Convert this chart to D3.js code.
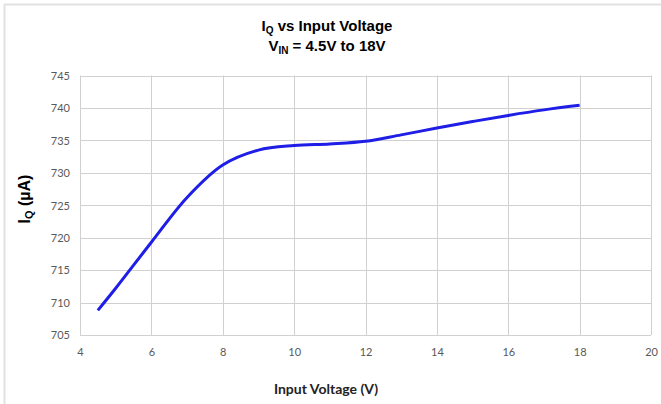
<!DOCTYPE html>
<html><head><meta charset="utf-8">
<script src="https://cdn.jsdelivr.net/npm/d3@7"></script>
<style>body{margin:0;background:#fff}svg{display:block}</style>
</head><body>
<script>
const voltage = [4.5, 5, 6, 7, 8, 9, 10, 11, 12, 13, 14, 15, 16, 17, 18];
const iq = [708.8, 712.2, 719.3, 726.2, 731.2, 733.5, 734.2, 734.45, 734.85, 735.85, 736.9, 737.9, 738.85, 739.7, 740.4];
const xTicks = [4, 6, 8, 10, 12, 14, 16, 18, 20];
const yTicks = [705, 710, 715, 720, 725, 730, 735, 740, 745];

const W = 661, H = 404;
const svg = d3.select("body").append("svg").attr("width", W).attr("height", H);

// outer frame (top and left edges visible)
svg.append("line").attr("x1",4).attr("x2",W).attr("y1",4.5).attr("y2",4.5).attr("stroke","#e2e2e2").attr("stroke-width",2);
svg.append("line").attr("x1",4.5).attr("x2",4.5).attr("y1",4).attr("y2",H).attr("stroke","#e2e2e2").attr("stroke-width",2);

const L = 80, R = 651, T = 75.5, B = 335;
const x = d3.scaleLinear().domain([4, 20]).range([L, R]);
const y = d3.scaleLinear().domain([705, 745]).range([B, T]);

// gridlines
const g = svg.append("g");
g.selectAll(".vg").data(xTicks).enter().append("line")
  .attr("x1", d => Math.round(x(d)) + 0.5).attr("x2", d => Math.round(x(d)) + 0.5)
  .attr("y1", T).attr("y2", B).attr("stroke", "#d0d0d0").attr("stroke-width", 1);
g.selectAll(".hg").data(yTicks).enter().append("line")
  .attr("y1", d => Math.round(y(d)) + 0.5).attr("y2", d => Math.round(y(d)) + 0.5)
  .attr("x1", L).attr("x2", R).attr("stroke", "#d0d0d0").attr("stroke-width", 1);

// axes (labels only)
const xAxis = d3.axisBottom(x).tickValues(xTicks).tickSize(0).tickPadding(0).tickFormat(d3.format("d"));
const yAxis = d3.axisLeft(y).tickValues(yTicks).tickSize(0).tickPadding(0).tickFormat(d3.format("d"));
const gx = svg.append("g").attr("transform", `translate(0,${B})`).call(xAxis);
const gy = svg.append("g").attr("transform", `translate(${L - 10},0)`).call(yAxis);
[gx, gy].forEach(a => {
  a.select(".domain").remove();
  a.selectAll("text").attr("fill", "#595959").attr("font-family", "Lato, 'Open Sans', sans-serif").attr("font-size", "11px");
});
gx.selectAll("text").attr("dy", "1.9em");
gy.selectAll("text").attr("dy", "0.35em");

// line
const line = d3.line().x((d, i) => x(voltage[i])).y(d => y(d)).curve(d3.curveCatmullRom.alpha(0.5));
svg.append("path").datum(iq).attr("d", line).attr("fill", "none")
  .attr("stroke", "#1e1ee6").attr("stroke-width", 3).attr("stroke-linecap", "butt");

// title
const title = svg.append("text").attr("x", 327).attr("y", 31).attr("text-anchor", "middle")
  .attr("font-family", "'Liberation Sans', Arial, sans-serif").attr("font-weight", "bold").attr("font-size", "15px").attr("fill", "#000");
title.append("tspan").text("I");
title.append("tspan").attr("font-size", "10px").attr("dy", 3).text("Q");
title.append("tspan").attr("dy", -3).text(" vs Input Voltage");
const t2 = svg.append("text").attr("x", 327).attr("y", 51).attr("text-anchor", "middle")
  .attr("font-family", "'Liberation Sans', Arial, sans-serif").attr("font-weight", "bold").attr("font-size", "15px").attr("fill", "#000");
t2.append("tspan").text("V");
t2.append("tspan").attr("font-size", "10px").attr("dy", 3).text("IN");
t2.append("tspan").attr("dy", -3).text(" = 4.5V to 18V");

// y label
const yl = svg.append("text").attr("transform", "translate(30,199) rotate(-90)").attr("text-anchor", "middle")
  .attr("font-family", "'Liberation Sans', Arial, sans-serif").attr("font-weight", "bold").attr("font-size", "16px").attr("fill", "#000");
yl.append("tspan").text("I");
yl.append("tspan").attr("font-size", "11px").attr("dy", 3).text("Q");
yl.append("tspan").attr("dy", -3).text(" (µA)");

// x label
svg.append("text").attr("x", 326).attr("y", 394).attr("text-anchor", "middle")
  .attr("font-family", "Lato, 'Open Sans', sans-serif").attr("font-weight", "bold").attr("font-size", "14px").attr("fill", "#222")
  .text("Input Voltage (V)");
</script>
</body></html>
